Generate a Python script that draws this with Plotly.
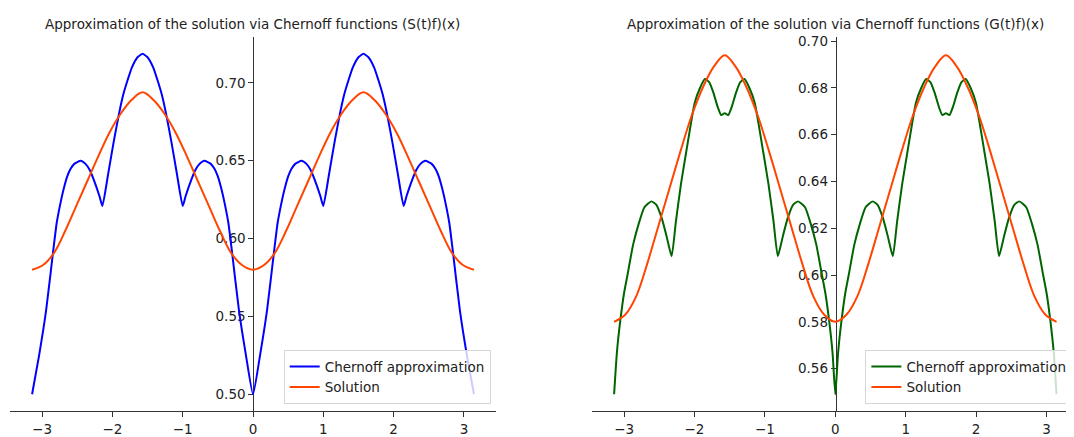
import plotly.graph_objs as go

FONT = "DejaVu Sans"
FONT_SIZE = 13.5
# the page body keeps its default 8px margin, so the figure is 8px smaller
# than the window and pixel positions below are taken from the window corner
OFF = 8
W, H = 1074 - OFF, 437 - OFF

# (S(t)f)(x) - Chernoff approximation, left panel
x_s = [
    -3.142, -3.042, -2.942, -2.842, -2.792, -2.742, -2.692, -2.642, -2.592, -2.542,
    -2.452, -2.382, -2.322, -2.242, -2.182, -2.142, -2.062, -1.982, -1.902, -1.842,
    -1.782, -1.722, -1.642, -1.571, -1.500, -1.420, -1.360, -1.300, -1.240, -1.160,
    -1.080, -1.000, -0.960, -0.900, -0.820, -0.760, -0.690, -0.600, -0.550, -0.500,
    -0.450, -0.400, -0.350, -0.300, -0.200, -0.100,
    0.000, 0.100, 0.200, 0.300, 0.350, 0.400, 0.450, 0.500, 0.550, 0.600,
    0.690, 0.760, 0.820, 0.900, 0.960, 1.000, 1.080, 1.160, 1.240, 1.300,
    1.360, 1.420, 1.500, 1.571, 1.642, 1.722, 1.782, 1.842, 1.902, 1.982,
    2.062, 2.142, 2.182, 2.242, 2.322, 2.382, 2.452, 2.542, 2.592, 2.642,
    2.692, 2.742, 2.792, 2.842, 2.942, 3.042, 3.142,
]
chernoff_s = [
    0.500, 0.525, 0.554, 0.592, 0.610, 0.622, 0.632, 0.640, 0.645, 0.648,
    0.650, 0.648, 0.644, 0.635, 0.627, 0.621, 0.641, 0.662, 0.681, 0.693,
    0.702, 0.710, 0.7165, 0.7187, 0.7165, 0.710, 0.702, 0.693, 0.681, 0.662,
    0.641, 0.621, 0.627, 0.635, 0.644, 0.648, 0.650, 0.648, 0.645, 0.640,
    0.632, 0.622, 0.610, 0.592, 0.554, 0.525,
    0.500, 0.525, 0.554, 0.592, 0.610, 0.622, 0.632, 0.640, 0.645, 0.648,
    0.650, 0.648, 0.644, 0.635, 0.627, 0.621, 0.641, 0.662, 0.681, 0.693,
    0.702, 0.710, 0.7165, 0.7187, 0.7165, 0.710, 0.702, 0.693, 0.681, 0.662,
    0.641, 0.621, 0.627, 0.635, 0.644, 0.648, 0.650, 0.648, 0.645, 0.640,
    0.632, 0.622, 0.610, 0.592, 0.554, 0.525, 0.500,
]

# (G(t)f)(x) - Chernoff approximation, right panel
x_g = [
    -3.142, -3.102, -3.052, -3.002, -2.952, -2.872, -2.792, -2.712, -2.612, -2.542,
    -2.462, -2.392, -2.325, -2.264, -2.192, -2.118, -1.997, -1.922, -1.852, -1.792,
    -1.732, -1.672, -1.621, -1.571, -1.521, -1.470, -1.410, -1.350, -1.290, -1.220,
    -1.145, -1.024, -0.950, -0.878, -0.817, -0.750, -0.680, -0.600, -0.530, -0.430,
    -0.350, -0.270, -0.190, -0.140, -0.090, -0.040,
    0.000, 0.040, 0.090, 0.140, 0.190, 0.270, 0.350, 0.430, 0.530, 0.600,
    0.680, 0.750, 0.817, 0.878, 0.950, 1.024, 1.145, 1.220, 1.290, 1.350,
    1.410, 1.470, 1.520, 1.571, 1.621, 1.672, 1.732, 1.792, 1.852, 1.922,
    1.997, 2.118, 2.192, 2.264, 2.325, 2.392, 2.462, 2.542, 2.612, 2.712,
    2.792, 2.872, 2.952, 3.002, 3.052, 3.102, 3.142,
]
chernoff_g = [
    0.549, 0.567, 0.581, 0.592, 0.600, 0.613, 0.622, 0.629, 0.6315, 0.630,
    0.624, 0.616, 0.608, 0.623, 0.639, 0.6526, 0.6737, 0.680, 0.6838, 0.6825,
    0.678, 0.672, 0.6684, 0.6692, 0.6684, 0.672, 0.678, 0.6825, 0.6838, 0.680,
    0.6737, 0.6526, 0.639, 0.623, 0.608, 0.616, 0.624, 0.630, 0.6315, 0.629,
    0.622, 0.613, 0.600, 0.592, 0.581, 0.567,
    0.549, 0.567, 0.581, 0.592, 0.600, 0.613, 0.622, 0.629, 0.6315, 0.630,
    0.624, 0.616, 0.608, 0.623, 0.639, 0.6526, 0.6737, 0.680, 0.6838, 0.6825,
    0.678, 0.672, 0.6684, 0.6692, 0.6684, 0.672, 0.678, 0.6825, 0.6838, 0.680,
    0.6737, 0.6526, 0.639, 0.623, 0.608, 0.616, 0.624, 0.630, 0.6315, 0.629,
    0.622, 0.613, 0.600, 0.592, 0.581, 0.567, 0.549,
]

# exact solution, same in both panels
x_sol = [
    -3.142, -2.985, -2.827, -2.670, -2.513, -2.356, -2.199, -2.042, -1.885, -1.728,
    -1.571, -1.414, -1.257, -1.100, -0.942, -0.785, -0.628, -0.471, -0.314, -0.157,
    0.000, 0.157, 0.314, 0.471, 0.628, 0.785, 0.942, 1.100, 1.257, 1.414,
    1.571, 1.728, 1.885, 2.042, 2.199, 2.356, 2.513, 2.670, 2.827, 2.985, 3.142,
]
solution = [
    0.580, 0.583, 0.591, 0.605, 0.621, 0.637, 0.653, 0.668, 0.680, 0.689,
    0.694, 0.689, 0.680, 0.668, 0.653, 0.637, 0.621, 0.605, 0.591, 0.583,
    0.580, 0.583, 0.591, 0.605, 0.621, 0.637, 0.653, 0.668, 0.680, 0.689,
    0.694, 0.689, 0.680, 0.668, 0.653, 0.637, 0.621, 0.605, 0.591, 0.583, 0.580,
]

x_ticks = [-3, -2, -1, 0, 1, 2, 3]
y_ticks_s = [0.50, 0.55, 0.60, 0.65, 0.70]
y_ticks_g = [0.56, 0.58, 0.60, 0.62, 0.64, 0.66, 0.68, 0.70]

titles = [
    "Approximation of the solution via Chernoff functions (S(t)f)(x)",
    "Approximation of the solution via Chernoff functions (G(t)f)(x)",
]


def px(x):
    return (x - OFF) / W


def py(y):
    return (H - (y - OFF)) / H


fig = go.Figure()
fig.add_trace(go.Scatter(x=x_s, y=chernoff_s, mode="lines",
                         line=dict(color="blue", width=2, shape="spline", smoothing=0.5),
                         name="Chernoff approximation", xaxis="x", yaxis="y", legend="legend"))
fig.add_trace(go.Scatter(x=x_sol, y=solution, mode="lines", line=dict(color="orangered", width=2, shape="spline"),
                         name="Solution", xaxis="x", yaxis="y", legend="legend"))
fig.add_trace(go.Scatter(x=x_g, y=chernoff_g, mode="lines",
                         line=dict(color="darkgreen", width=2, shape="spline", smoothing=0.5),
                         name="Chernoff approximation", xaxis="x2", yaxis="y2", legend="legend2"))
fig.add_trace(go.Scatter(x=x_sol, y=solution, mode="lines", line=dict(color="orangered", width=2, shape="spline"),
                         name="Solution", xaxis="x2", yaxis="y2", legend="legend2"))

axis_common = dict(showgrid=False, zeroline=False, showline=True, linecolor="#333", linewidth=1,
                   ticks="outside", ticklen=5, tickcolor="#333", tickfont=dict(size=FONT_SIZE, color="#222"),
                   layer="below traces")
y_dom = [py(414), py(33.4)]

legend_common = dict(font=dict(family=FONT, size=FONT_SIZE, color="#222"), bgcolor="rgba(255,255,255,0.8)",
                     bordercolor="#d6d6d6", borderwidth=1, xanchor="right", yanchor="bottom",
                     itemwidth=30, tracegroupgap=0)

fig.update_layout(
    width=W, height=H, margin=dict(l=0, r=0, t=0, b=0),
    paper_bgcolor="white", plot_bgcolor="white",
    font=dict(family=FONT, size=FONT_SIZE, color="#222"),
    xaxis=dict(domain=[px(10), px(496)], range=[-3.456, 3.456], tickvals=x_ticks, anchor="y", **axis_common),
    yaxis=dict(domain=y_dom, range=[0.489, 0.7295], tickvals=y_ticks_s, tickformat=".2f",
               anchor="free", position=px(253.3), **axis_common),
    xaxis2=dict(domain=[px(592), 1.0], range=[-3.456, 3.39], tickvals=x_ticks, anchor="y2", **axis_common),
    yaxis2=dict(domain=y_dom, range=[0.5417, 0.7018], tickvals=y_ticks_g, tickformat=".2f",
                anchor="free", position=px(835.7), **axis_common),
    legend=dict(x=px(490.7), y=py(406.7), **legend_common),
    legend2=dict(x=px(1072.4), y=py(406.7), **legend_common),
    showlegend=True,
)

for cx, text in zip([px(253), px(835.7)], titles):
    fig.add_annotation(x=cx, y=py(20.7), xref="paper", yref="paper", text=text, showarrow=False,
                       xanchor="center", yanchor="middle", font=dict(family=FONT, size=FONT_SIZE, color="#222"))

fig.write_html("out.html")
